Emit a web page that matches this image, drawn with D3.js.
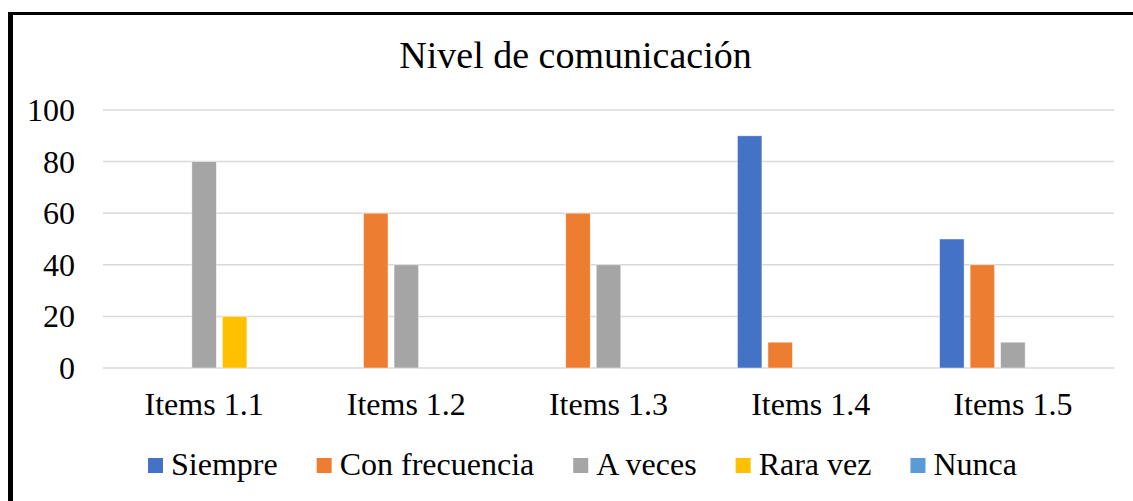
<!DOCTYPE html>
<html lang="es">
<head>
    <meta charset="UTF-8">
    <title>Nivel de comunicación</title>
    <script src="https://cdnjs.cloudflare.com/ajax/libs/d3/7.8.5/d3.min.js"></script>
    <style>
        body { margin: 0; background: #fff; }
        svg text { font-family: "Liberation Serif", "Times New Roman", serif; fill: #000; }
    </style>
</head>
<body>
<svg id="chart" width="1133" height="501"></svg>
<script>
    const categories = ["Items 1.1", "Items 1.2", "Items 1.3", "Items 1.4", "Items 1.5"];
    const seriesNames = ["Siempre", "Con frecuencia", "A veces", "Rara vez", "Nunca"];
    const seriesColors = ["#4472c4", "#ed7d31", "#a5a5a5", "#ffc000", "#5b9bd5"];
    const siempre = [0, 0, 0, 90, 50];
    const conFrecuencia = [0, 60, 60, 10, 40];
    const aVeces = [80, 40, 40, 0, 10];
    const raraVez = [20, 0, 0, 0, 0];
    const nunca = [0, 0, 0, 0, 0];
    const yTicks = [0, 20, 40, 60, 80, 100];

    const seriesValues = [siempre, conFrecuencia, aVeces, raraVez, nunca];
    const svg = d3.select("#chart");

    // frame: thick left edge and top edge
    svg.append("line").attr("x1", 10.5).attr("x2", 10.5).attr("y1", 12).attr("y2", 501)
        .attr("stroke", "#000").attr("stroke-width", 5);
    svg.append("line").attr("x1", 8).attr("x2", 1133).attr("y1", 13.5).attr("y2", 13.5)
        .attr("stroke", "#000").attr("stroke-width", 3);

    const plot = { left: 103, right: 1114, top: 110, bottom: 368 };

    const x = d3.scaleBand()
        .domain(categories)
        .range([plot.left, plot.right])
        .paddingInner(0.275)
        .paddingOuter(0.1375);

    const xInner = d3.scaleBand()
        .domain(seriesNames)
        .range([0, x.bandwidth()])
        .paddingInner(0.197);

    const y = d3.scaleLinear().domain([0, 100]).range([plot.bottom, plot.top]);

    // gridlines
    svg.append("g")
        .selectAll("line")
        .data(yTicks)
        .join("line")
        .attr("x1", plot.left).attr("x2", plot.right)
        .attr("y1", d => y(d)).attr("y2", d => y(d))
        .attr("stroke", "#d9d9d9").attr("stroke-width", 1.5);

    // y tick labels
    svg.append("g")
        .selectAll("text")
        .data(yTicks)
        .join("text")
        .attr("x", 75)
        .attr("y", d => y(d) + 11)
        .attr("text-anchor", "end")
        .attr("font-size", 32)
        .text(d => d);

    // bars
    const cells = [];
    seriesNames.forEach((name, s) => {
        categories.forEach((cat, c) => {
            cells.push({ name, cat, value: seriesValues[s][c], color: seriesColors[s] });
        });
    });

    svg.append("g")
        .selectAll("rect")
        .data(cells.filter(d => d.value > 0))
        .join("rect")
        .attr("x", d => x(d.cat) + xInner(d.name))
        .attr("width", xInner.bandwidth())
        .attr("y", d => y(d.value))
        .attr("height", d => y(0) - y(d.value))
        .attr("fill", d => d.color)
        .attr("stroke", "#fff")
        .attr("stroke-opacity", 0.6)
        .attr("stroke-width", 0.75);

    // category labels
    svg.append("g")
        .selectAll("text")
        .data(categories)
        .join("text")
        .attr("x", d => x(d) + x.bandwidth() / 2)
        .attr("y", 415)
        .attr("text-anchor", "middle")
        .attr("font-size", 32)
        .text(d => d);

    // title
    svg.append("text")
        .attr("x", 575.5)
        .attr("y", 68)
        .attr("text-anchor", "middle")
        .attr("font-size", 38)
        .text("Nivel de comunicación");

    // legend
    const legendGap = 39;
    const legend = svg.append("g");
    const items = legend.selectAll("g")
        .data(seriesNames)
        .join("g");
    items.append("rect")
        .attr("width", 15).attr("height", 15)
        .attr("y", 458)
        .attr("fill", (d, i) => seriesColors[i]);
    items.append("text")
        .attr("x", 23)
        .attr("y", 475)
        .attr("font-size", 32)
        .text(d => d);

    let offset = 0;
    const positions = [];
    items.each(function () {
        positions.push(offset);
        const w = d3.select(this).select("text").node().getComputedTextLength();
        offset += 23 + w + legendGap;
    });
    const legendWidth = offset - legendGap;
    const legendStart = 582.5 - legendWidth / 2;
    items.attr("transform", (d, i) => `translate(${legendStart + positions[i]},0)`);
</script>
</body>
</html>
